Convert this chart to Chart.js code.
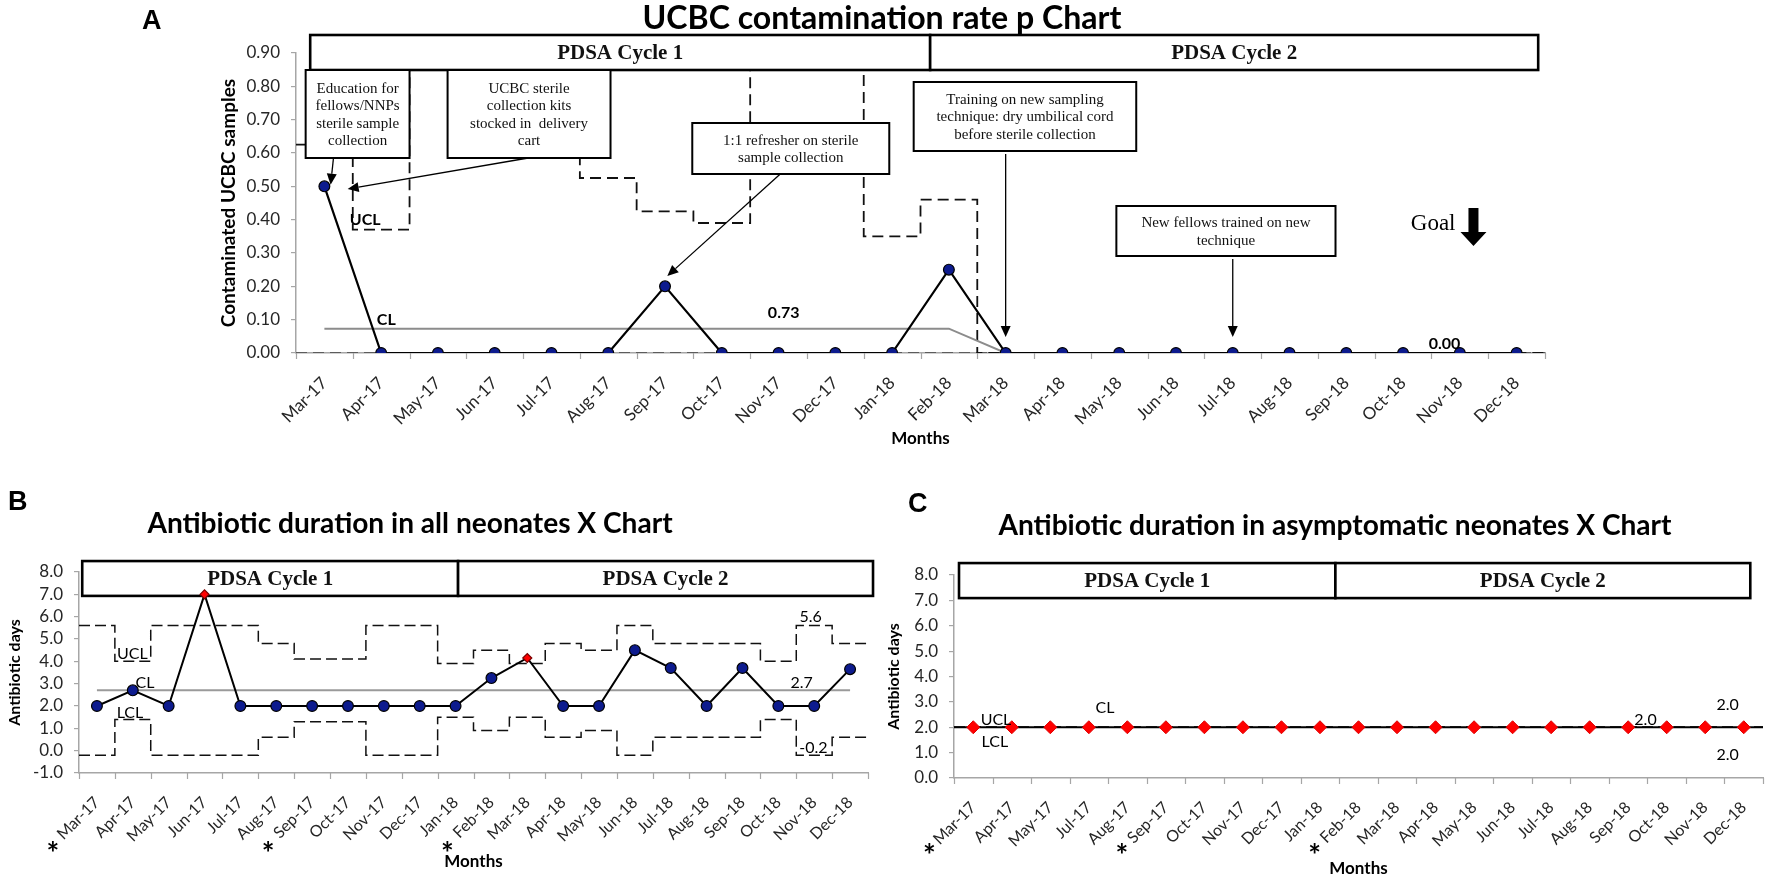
<!DOCTYPE html>
<html>
<head>
<meta charset="utf-8">
<script src="https://cdn.jsdelivr.net/npm/chart.js@4.4.0/dist/chart.umd.min.js"></script>
<style>
html, body { margin: 0; padding: 0; background: #fff; }
#wrap { position: relative; width: 1772px; height: 880px; overflow: hidden; background: #fff; }
#wrap canvas { position: absolute; left: 0; top: 0; }
</style>
</head>
<body>
<div id="wrap">
  <canvas id="chartA" width="1772" height="880"></canvas>
  <canvas id="chartB" width="1772" height="880"></canvas>
  <canvas id="chartC" width="1772" height="880"></canvas>
</div>
<script>
// ---- data ----
const monthsAll = ['Mar-17', 'Apr-17', 'May-17', 'Jun-17', 'Jul-17', 'Aug-17', 'Sep-17', 'Oct-17',
  'Nov-17', 'Dec-17', 'Jan-18', 'Feb-18', 'Mar-18', 'Apr-18', 'May-18', 'Jun-18', 'Jul-18',
  'Aug-18', 'Sep-18', 'Oct-18', 'Nov-18', 'Dec-18'];
// panel C has no Jun-17 category
const monthsC = ['Mar-17', 'Apr-17', 'May-17', 'Jul-17', 'Aug-17', 'Sep-17', 'Oct-17', 'Nov-17',
  'Dec-17', 'Jan-18', 'Feb-18', 'Mar-18', 'Apr-18', 'May-18', 'Jun-18', 'Jul-18', 'Aug-18',
  'Sep-18', 'Oct-18', 'Nov-18', 'Dec-18'];

// A: UCBC contamination rate (p chart)
const yTicksA = [0, 0.1, 0.2, 0.3, 0.4, 0.5, 0.6, 0.7, 0.8, 0.9];
const ucbcRate = [0.50, 0, 0, 0, 0, 0, 0.20, 0, 0, 0, 0, 0.25, 0, 0, 0, 0, 0, 0, 0, 0, 0, 0];
const clA = [0.073, 0.073, 0.073, 0.073, 0.073, 0.073, 0.073, 0.073, 0.073, 0.073, 0.073, 0.073,
  0, 0, 0, 0, 0, 0, 0, 0, 0, 0];
const uclA = [0.625, 0.37, 0.95, 0.95, 0.95, 0.525, 0.425, 0.39, 0.95, 0.95, 0.35, 0.46,
  0, 0, 0, 0, 0, 0, 0, 0, 0, 0];
const lclA = [0, 0, 0, 0, 0, 0, 0, 0, 0, 0, 0, 0, 0, 0, 0, 0, 0, 0, 0, 0, 0, 0];

// B: antibiotic duration, all neonates (X chart)
const yTicksB = [-1, 0, 1, 2, 3, 4, 5, 6, 7, 8];
const abxAll = [2.0, 2.7, 2.0, 7.0, 2.0, 2.0, 2.0, 2.0, 2.0, 2.0, 2.0, 3.25, 4.15, 2.0, 2.0, 4.5,
  3.7, 2.0, 3.7, 2.0, 2.0, 3.65];
const clB = [2.7, 2.7, 2.7, 2.7, 2.7, 2.7, 2.7, 2.7, 2.7, 2.7, 2.7, 2.7, 2.7, 2.7, 2.7, 2.7, 2.7,
  2.7, 2.7, 2.7, 2.7, 2.7];
const uclB = [5.6, 4.0, 5.6, 5.6, 5.6, 4.8, 4.1, 4.1, 5.6, 5.6, 3.9, 4.5, 3.9, 4.8, 4.5, 5.6, 4.8,
  4.8, 4.8, 4.0, 5.6, 4.8];
const lclB = [-0.2, 1.4, -0.2, -0.2, -0.2, 0.6, 1.3, 1.3, -0.2, -0.2, 1.5, 0.9, 1.5, 0.6, 0.9, -0.2,
  0.6, 0.6, 0.6, 1.4, -0.2, 0.6];
const specialB = [3, 12]; // red diamond points

// C: antibiotic duration, asymptomatic neonates (X chart)
const yTicksC = [0, 1, 2, 3, 4, 5, 6, 7, 8];
const abxAsym = [2, 2, 2, 2, 2, 2, 2, 2, 2, 2, 2, 2, 2, 2, 2, 2, 2, 2, 2, 2, 2];
const clC = [2, 2, 2, 2, 2, 2, 2, 2, 2, 2, 2, 2, 2, 2, 2, 2, 2, 2, 2, 2, 2];
const uclC = [2, 2, 2, 2, 2, 2, 2, 2, 2, 2, 2, 2, 2, 2, 2, 2, 2, 2, 2, 2, 2];
const lclC = [2, 2, 2, 2, 2, 2, 2, 2, 2, 2, 2, 2, 2, 2, 2, 2, 2, 2, 2, 2, 2];

// ---- styling ----
const NAVY = '#0d1b8e';
const AXIS = '#a6a6a6';
const TXT = '#262626';
const SANS = 'Lato';
const SERIF = '"Liberation Serif"';

Chart.defaults.font.family = SANS;
Chart.defaults.color = TXT;

// helpers
function points(values) {
  return values.map((v, i) => ({ x: i, y: v }));
}
// step line: each value spans its whole category
function stepPoints(values) {
  const pts = values.map((v, i) => ({ x: i - 0.5, y: v }));
  pts.push({ x: values.length - 0.5, y: values[values.length - 1] });
  return pts;
}
function xy(chart, x, y) {
  return [chart.scales.x.getPixelForValue(x), chart.scales.y.getPixelForValue(y)];
}
function fitFont(ctx, text, style, family, width) {
  ctx.font = `${style} 100px ${family}`;
  const size = 100 * width / ctx.measureText(text).width;
  return `${style} ${size.toFixed(1)}px ${family}`;
}
function centeredText(ctx, text, x, y) {
  const m = ctx.measureText(text);
  ctx.textBaseline = 'alphabetic';
  ctx.fillText(text, x, y + (m.actualBoundingBoxAscent - m.actualBoundingBoxDescent) / 2);
}

function drawBox(ctx, chart, b, lw, font, lh) {
  const [x1, y1] = xy(chart, b.x1, b.y1);
  const [x2, y2] = xy(chart, b.x2, b.y2);
  ctx.fillStyle = '#fff';
  ctx.fillRect(x1, y1, x2 - x1, y2 - y1);
  ctx.lineWidth = lw;
  ctx.strokeStyle = '#000';
  ctx.strokeRect(x1, y1, x2 - x1, y2 - y1);
  ctx.fillStyle = '#111';
  ctx.font = font;
  ctx.textAlign = 'center';
  ctx.textBaseline = 'middle';
  const cx = (x1 + x2) / 2, cy = (y1 + y2) / 2;
  b.lines.forEach((t, k) => ctx.fillText(t, cx, cy + (k - (b.lines.length - 1) / 2) * lh + 1));
}

function drawArrow(ctx, chart, a) {
  const [x1, y1] = xy(chart, a.x1, a.y1);
  const [x2, y2] = xy(chart, a.x2, a.y2);
  const ang = Math.atan2(y2 - y1, x2 - x1), L = 11, W = 5;
  const bx = x2 - L * Math.cos(ang), by = y2 - L * Math.sin(ang);
  ctx.strokeStyle = '#000';
  ctx.lineWidth = 1.3;
  ctx.beginPath();
  ctx.moveTo(x1, y1);
  ctx.lineTo(bx, by);
  ctx.stroke();
  ctx.fillStyle = '#000';
  ctx.beginPath();
  ctx.moveTo(x2, y2);
  ctx.lineTo(bx - W * Math.sin(ang), by + W * Math.cos(ang));
  ctx.lineTo(bx + W * Math.sin(ang), by - W * Math.cos(ang));
  ctx.closePath();
  ctx.fill();
}

function drawGoal(ctx, chart, g) {
  const [x, yTop] = xy(chart, g.x, g.y1);
  const [, yTip] = xy(chart, g.x, g.y2);
  const headH = 14, sw = 5, hw = 13;
  ctx.fillStyle = '#000';
  ctx.beginPath();
  ctx.moveTo(x - sw, yTop);
  ctx.lineTo(x + sw, yTop);
  ctx.lineTo(x + sw, yTip - headH);
  ctx.lineTo(x + hw, yTip - headH);
  ctx.lineTo(x, yTip);
  ctx.lineTo(x - hw, yTip - headH);
  ctx.lineTo(x - sw, yTip - headH);
  ctx.closePath();
  ctx.fill();
  const [tx, ty] = xy(chart, g.tx, g.ty);
  ctx.font = `23px ${SERIF}`;
  ctx.textAlign = 'center';
  centeredText(ctx, 'Goal', tx, ty);
}

function drawNotes(chart, p) {
  const ctx = chart.ctx;
  ctx.save();
  (p.pdsa || []).forEach(b => drawBox(ctx, chart, b, 2.6, `bold 21px ${SERIF}`, 20));
  (p.notes || []).forEach(b => drawBox(ctx, chart, b, 2, `15px ${SERIF}`, 17.5));
  (p.arrows || []).forEach(a => drawArrow(ctx, chart, a));
  if (p.goal) drawGoal(ctx, chart, p.goal);
  ctx.restore();
}

function drawFrame(chart, p) {
  const ctx = chart.ctx;
  const area = chart.chartArea;
  const xs = chart.scales.x;
  ctx.save();
  // tick marks between categories, like the spreadsheet axis
  ctx.strokeStyle = AXIS;
  ctx.lineWidth = 1.2;
  for (let i = 0; i <= p.labels.length; i++) {
    const x = Math.round(xs.getPixelForValue(i - 0.5)) + 0.5;
    ctx.beginPath();
    ctx.moveTo(x, area.bottom);
    ctx.lineTo(x, area.bottom + 6);
    ctx.stroke();
  }
  // value labels on the chart
  ctx.fillStyle = '#000';
  ctx.textAlign = 'center';
  ctx.font = p.labelFont;
  (p.texts || []).forEach(t => {
    const [x, y] = xy(chart, t.x, t.y);
    centeredText(ctx, t.t, x, y);
  });
  // title
  ctx.font = fitFont(ctx, p.title, 'bold', SANS, p.titleWidth);
  centeredText(ctx, p.title, p.titleX, p.titleY);
  // panel letter
  ctx.font = `bold 27px "Liberation Sans"`;
  ctx.textAlign = 'left';
  centeredText(ctx, p.letter, p.letterX, p.letterY);
  // axis titles
  ctx.textAlign = 'center';
  ctx.font = `bold 17px ${SANS}`;
  centeredText(ctx, 'Months', (area.left + area.right) / 2, area.bottom + p.monthsDy);
  ctx.save();
  ctx.translate(p.yTitleX, (area.top + area.bottom) / 2);
  ctx.rotate(-Math.PI / 2);
  ctx.font = `bold ${p.yTitleSize}px ${SANS}`;
  centeredText(ctx, p.yTitle, 0, 0);
  ctx.restore();
  // asterisks under selected months
  ctx.font = `bold 30px ${SANS}`;
  (p.stars || []).forEach(i => {
    centeredText(ctx, '*', xs.getPixelForValue(i) - 44, area.bottom + p.starDy);
  });
  ctx.restore();
}

function decor(p) {
  return {
    id: 'decor',
    beforeDatasetsDraw(chart) { if (!p.boxesOnTop) drawNotes(chart, p); },
    afterDatasetsDraw(chart) { if (p.boxesOnTop) drawNotes(chart, p); },
    afterDraw(chart) { drawFrame(chart, p); }
  };
}

function buildChart(id, p) {
  const yW = 64, xH = 100;
  return new Chart(document.getElementById(id), {
    type: 'line',
    data: { datasets: p.datasets },
    options: {
      responsive: false,
      animation: false,
      events: [],
      layout: {
        padding: {
          left: p.area.left - yW,
          right: 1772 - p.area.right,
          top: p.area.top,
          bottom: 880 - p.area.bottom - xH
        }
      },
      plugins: { legend: { display: false }, tooltip: { enabled: false } },
      scales: {
        x: {
          type: 'linear',
          min: -0.5,
          max: p.labels.length - 0.5,
          afterBuildTicks: s => { s.ticks = p.labels.map((_, i) => ({ value: i })); },
          afterFit: s => { s.height = xH; },
          grid: { display: false },
          border: { display: true, color: AXIS, width: 1.5 },
          ticks: {
            autoSkip: false, maxRotation: 45, minRotation: 45, padding: 12,
            color: TXT, font: { size: p.xFont },
            callback: v => p.labels[v]
          }
        },
        y: {
          min: p.yMin,
          max: p.yMax,
          afterBuildTicks: s => { s.ticks = p.yTicks.map(v => ({ value: v })); },
          afterFit: s => { s.width = yW; },
          grid: { drawOnChartArea: false, drawTicks: true, tickLength: 5, color: AXIS, lineWidth: 1.2 },
          border: { display: true, color: AXIS, width: 1.5 },
          ticks: {
            autoSkip: false, padding: 11, color: TXT, font: { size: p.yFont },
            callback: v => v.toFixed(p.yDec)
          }
        }
      }
    },
    plugins: [decor(p)]
  });
}

function build() {
  // ---------- A ----------
  buildChart('chartA', {
    area: { left: 296, right: 1545, top: 53, bottom: 353 },
    labels: monthsAll, yMin: 0, yMax: 0.9, yTicks: yTicksA, yDec: 2, xFont: 17, yFont: 17,
    title: 'UCBC contamination rate p Chart', titleX: 882, titleY: 19, titleWidth: 480,
    letter: 'A', letterX: 142, letterY: 19,
    yTitle: 'Contaminated UCBC samples', yTitleX: 229, yTitleSize: 19, monthsDy: 84,
    labelFont: `bold 16px ${SANS}`,
    boxesOnTop: true,
    datasets: [
      { data: points(ucbcRate), borderColor: '#000', borderWidth: 2.2, pointRadius: 5.4,
        pointBackgroundColor: NAVY, pointBorderColor: '#000', pointBorderWidth: 1.2 },
      { data: points(clA), borderColor: '#8c8c8c', borderWidth: 2, pointRadius: 0 },
      { data: stepPoints(uclA), stepped: true, borderColor: '#111', borderWidth: 1.8,
        borderDash: [11, 6], pointRadius: 0 },
      { data: stepPoints(lclA), stepped: true, borderColor: '#444', borderWidth: 1.5,
        borderDash: [11, 6], pointRadius: 0 }
    ],
    pdsa: [
      { x1: -0.25, x2: 10.67, y1: 0.954, y2: 0.849, lines: ['PDSA Cycle 1'] },
      { x1: 10.67, x2: 21.38, y1: 0.954, y2: 0.849, lines: ['PDSA Cycle 2'] }
    ],
    notes: [
      { x1: -0.33, x2: 1.5, y1: 0.849, y2: 0.585,
        lines: ['Education for', 'fellows/NNPs', 'sterile sample', 'collection'] },
      { x1: 2.17, x2: 5.04, y1: 0.849, y2: 0.585,
        lines: ['UCBC sterile', 'collection kits', 'stocked in  delivery', 'cart'] },
      { x1: 6.48, x2: 9.95, y1: 0.69, y2: 0.537,
        lines: ['1:1 refresher on sterile', 'sample collection'] },
      { x1: 10.38, x2: 14.30, y1: 0.813, y2: 0.606,
        lines: ['Training on new sampling', 'technique: dry umbilical cord', 'before sterile collection'] },
      { x1: 13.95, x2: 17.81, y1: 0.441, y2: 0.291,
        lines: ['New fellows trained on new', 'technique'] }
    ],
    arrows: [
      { x1: 0.16, y1: 0.585, x2: 0.11, y2: 0.505 },
      { x1: 3.59, y1: 0.585, x2: 0.41, y2: 0.492 },
      { x1: 8.03, y1: 0.537, x2: 6.04, y2: 0.231 },
      { x1: 12, y1: 0.597, x2: 12, y2: 0.048 },
      { x1: 16, y1: 0.282, x2: 16, y2: 0.048 }
    ],
    goal: { x: 20.24, y1: 0.435, y2: 0.321, tx: 19.53, ty: 0.375 },
    texts: [
      { t: 'UCL', x: 0.72, y: 0.40 },
      { t: 'CL', x: 1.09, y: 0.10 },
      { t: '0.73', x: 8.09, y: 0.123 },
      { t: '0.00', x: 19.73, y: 0.03 }
    ]
  });

  // ---------- B ----------
  buildChart('chartB', {
    area: { left: 79, right: 868, top: 572, bottom: 773 },
    labels: monthsAll, yMin: -1, yMax: 8, yTicks: yTicksB, yDec: 1, xFont: 16, yFont: 17,
    title: 'Antibiotic duration in all neonates X Chart', titleX: 410, titleY: 522, titleWidth: 525,
    letter: 'B', letterX: 8, letterY: 500,
    yTitle: 'Antibiotic days', yTitleX: 16, yTitleSize: 16, monthsDy: 87,
    labelFont: `16px ${SANS}`,
    boxesOnTop: false,
    stars: [0, 6, 11], starDy: 73,
    datasets: [
      { data: points(abxAll), borderColor: '#000', borderWidth: 2,
        pointStyle: abxAll.map((_, i) => specialB.includes(i) ? 'rectRot' : 'circle'),
        pointRadius: abxAll.map((_, i) => specialB.includes(i) ? 4.5 : 5.4),
        pointBackgroundColor: abxAll.map((_, i) => specialB.includes(i) ? '#ff0000' : NAVY),
        pointBorderColor: abxAll.map((_, i) => specialB.includes(i) ? '#7a0000' : '#000'),
        pointBorderWidth: 1.2 },
      { data: points(clB), borderColor: '#9a9a9a', borderWidth: 2, pointRadius: 0 },
      { data: stepPoints(uclB), stepped: true, borderColor: '#111', borderWidth: 1.5,
        borderDash: [11, 5], pointRadius: 0 },
      { data: stepPoints(lclB), stepped: true, borderColor: '#111', borderWidth: 1.5,
        borderDash: [11, 5], pointRadius: 0 }
    ],
    pdsa: [
      { x1: -0.41, x2: 10.07, y1: 8.49, y2: 6.93, lines: ['PDSA Cycle 1'] },
      { x1: 10.07, x2: 21.64, y1: 8.49, y2: 6.93, lines: ['PDSA Cycle 2'] }
    ],
    texts: [
      { t: 'UCL', x: 0.99, y: 4.37 },
      { t: 'CL', x: 1.34, y: 3.07 },
      { t: 'LCL', x: 0.92, y: 1.73 },
      { t: '5.6', x: 19.9, y: 6.0 },
      { t: '2.7', x: 19.65, y: 3.07 },
      { t: '-0.2', x: 19.98, y: 0.15 }
    ]
  });

  // ---------- C ----------
  buildChart('chartC', {
    area: { left: 954, right: 1763, top: 575, bottom: 778 },
    labels: monthsC, yMin: 0, yMax: 8, yTicks: yTicksC, yDec: 1, xFont: 16, yFont: 17,
    title: 'Antibiotic duration in asymptomatic neonates X Chart', titleX: 1335, titleY: 527, titleWidth: 674,
    letter: 'C', letterX: 908, letterY: 502,
    yTitle: 'Antibiotic days', yTitleX: 895, yTitleSize: 16, monthsDy: 89,
    labelFont: `16px ${SANS}`,
    boxesOnTop: false,
    stars: [0, 5, 10], starDy: 70,
    datasets: [
      { data: points(abxAsym), showLine: false, pointStyle: 'rectRot', pointRadius: 6.5,
        pointBackgroundColor: '#ff0000', pointBorderColor: '#e00000', pointBorderWidth: 1 },
      { data: stepPoints(clC), stepped: true, borderColor: '#000', borderWidth: 2, pointRadius: 0 },
      { data: stepPoints(uclC), stepped: true, borderColor: '#000', borderWidth: 1.5,
        borderDash: [11, 5], pointRadius: 0 },
      { data: stepPoints(lclC), stepped: true, borderColor: '#000', borderWidth: 1.5,
        borderDash: [11, 5], pointRadius: 0 }
    ],
    pdsa: [
      { x1: -0.37, x2: 9.4, y1: 8.47, y2: 7.09, lines: ['PDSA Cycle 1'] },
      { x1: 9.4, x2: 20.17, y1: 8.47, y2: 7.09, lines: ['PDSA Cycle 2'] }
    ],
    texts: [
      { t: 'UCL', x: 0.59, y: 2.29 },
      { t: 'LCL', x: 0.56, y: 1.42 },
      { t: 'CL', x: 3.42, y: 2.76 },
      { t: '2.0', x: 17.45, y: 2.29 },
      { t: '2.0', x: 19.58, y: 2.88 },
      { t: '2.0', x: 19.58, y: 0.91 }
    ]
  });
}

Promise.all([
  document.fonts.load(`16px ${SANS}`),
  document.fonts.load(`bold 16px ${SANS}`),
  document.fonts.load(`16px ${SERIF}`),
  document.fonts.load(`bold 16px ${SERIF}`),
  document.fonts.load('bold 16px "Liberation Sans"')
]).then(build, build);
</script>
</body>
</html>
